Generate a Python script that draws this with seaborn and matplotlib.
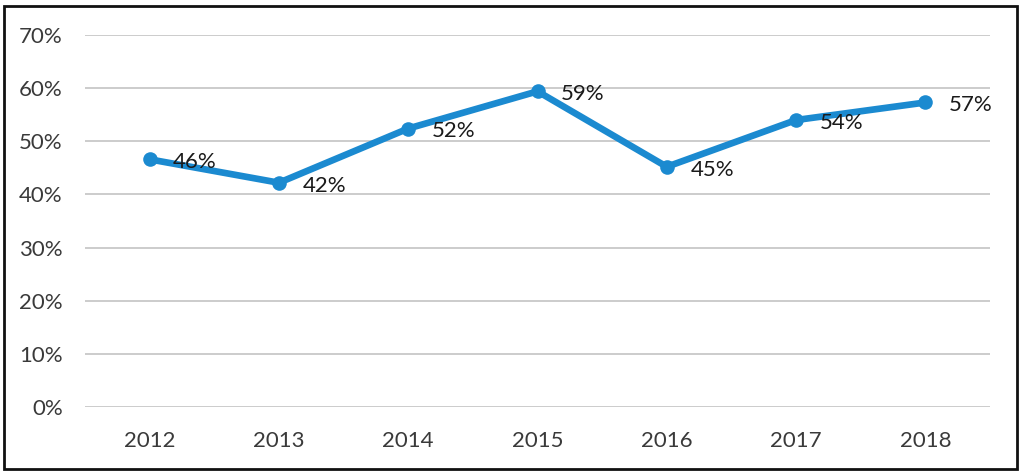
import matplotlib
matplotlib.use("Agg")
import matplotlib.pyplot as plt
import seaborn as sns
import pandas as pd
from matplotlib.patches import Rectangle

years = ["2012", "2013", "2014", "2015", "2016", "2017", "2018"]
values = [46.6, 42.2, 52.4, 59.4, 45.2, 54.0, 57.3]
labels = ["46%", "42%", "52%", "59%", "45%", "54%", "57%"]
yticks = [0, 10, 20, 30, 40, 50, 60, 70]

sns.set_theme(style="white")
plt.rcParams['font.family'] = ['Lato', 'DejaVu Sans']

df = pd.DataFrame({"year": years, "value": values})

fig = plt.figure(figsize=(10.24, 4.76), dpi=100)
ax = fig.add_axes([85/1024, 1 - 407/476, (990-85)/1024, (407-35)/476])

line_color = "#1B8AD0"
sns.lineplot(data=df, x="year", y="value", ax=ax, color=line_color,
             linewidth=4.8, marker="o", markersize=10.5, markeredgewidth=0,
             sort=False)

for i, (v, lab) in enumerate(zip(values, labels)):
    ax.annotate(lab, (i, v), xytext=(17, -2), textcoords="offset points",
                ha="left", va="center", fontsize=16, color="#1a1a1a")

ax.set_xlim(-0.5, 6.5)
ax.set_ylim(0, 70)
ax.set_yticks(yticks)
ax.set_yticklabels([f"{t}%" for t in yticks])
ax.yaxis.grid(True, color="#c8c8c8", linewidth=1.3)
ax.xaxis.grid(False)
ax.set_axisbelow(True)
for s in ax.spines.values():
    s.set_visible(False)
ax.tick_params(axis="both", length=0, labelsize=16, labelcolor="#3a3a3a")
ax.tick_params(axis="y", pad=16)
ax.tick_params(axis="x", pad=17)
ax.set_xlabel("")
ax.set_ylabel("")

fig.patches.append(Rectangle((4/1024, 1 - 469/476), 1013/1024, 463/476,
                             transform=fig.transFigure, fill=False,
                             edgecolor="#111111", linewidth=2))

fig.savefig("out.png", dpi=100)
